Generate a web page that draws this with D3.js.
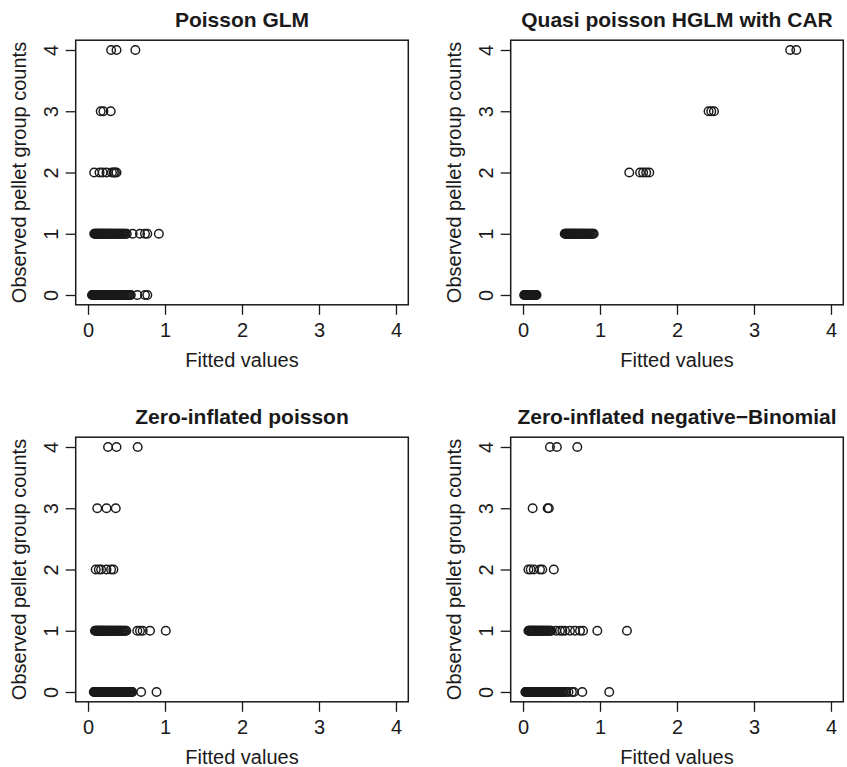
<!DOCTYPE html>
<html>
<head>
<meta charset="utf-8">
<script src="https://cdn.jsdelivr.net/npm/d3@7"></script>
<style>
  html, body { margin: 0; padding: 0; background: #ffffff; }
  svg { display: block; }
  text { font-family: "Liberation Sans", Arial, Helvetica, sans-serif; fill: #1a1a1a; }
</style>
</head>
<body>
<svg id="chart" width="847" height="767"></svg>
<script>
// Observed counts (0..4) against fitted values for four models.
const panelTitles = [
  "Poisson GLM",
  "Quasi poisson HGLM with CAR",
  "Zero-inflated poisson",
  "Zero-inflated negative\u2212Binomial"
];
const tickValues = [0, 1, 2, 3, 4];
const xLabel = "Fitted values";
const yLabel = "Observed pellet group counts";

// Poisson GLM: fitted values per observed count
const glmCount0 = [0.052,0.061,0.069,0.078,0.086,0.095,0.103,0.112,0.121,0.129,0.138,0.147,0.156,0.164,0.173,0.182,0.191,0.200,0.209,0.218,0.227,0.236,0.245,0.254,0.263,0.272,0.281,0.291,0.300,0.309,0.319,0.328,0.338,0.348,0.358,0.368,0.378,0.389,0.399,0.410,0.421,0.432,0.443,0.455,0.467,0.479,0.491,0.503,0.516,0.529,0.542,0.556,0.640,0.740,0.770];
const glmCount1 = [0.081,0.090,0.099,0.108,0.117,0.126,0.135,0.144,0.153,0.162,0.171,0.180,0.189,0.198,0.207,0.217,0.226,0.236,0.246,0.256,0.266,0.276,0.286,0.297,0.307,0.318,0.329,0.340,0.351,0.362,0.374,0.386,0.398,0.410,0.423,0.436,0.449,0.462,0.476,0.490,0.503,0.580,0.675,0.740,0.770,0.920];
const glmCount2 = [0.080,0.150,0.190,0.240,0.310,0.335,0.350,0.370];
const glmCount3 = [0.165,0.200,0.295];
const glmCount4 = [0.300,0.370,0.615];

// Quasi poisson HGLM with CAR
const hglmCount0 = [0.015,0.022,0.029,0.036,0.043,0.050,0.058,0.065,0.073,0.081,0.089,0.097,0.105,0.113,0.121,0.130,0.139,0.148,0.157,0.166,0.175];
const hglmCount1 = [0.542,0.551,0.560,0.569,0.578,0.587,0.596,0.605,0.614,0.623,0.632,0.641,0.650,0.659,0.668,0.677,0.686,0.695,0.704,0.713,0.722,0.731,0.741,0.751,0.761,0.771,0.781,0.791,0.801,0.812,0.823,0.834,0.846,0.858,0.870,0.882,0.895,0.907,0.918];
const hglmCount2 = [1.380,1.520,1.560,1.600,1.640];
const hglmCount3 = [2.410,2.445,2.480];
const hglmCount4 = [3.470,3.550];

// Zero-inflated poisson
const zipCount0 = [0.075,0.084,0.093,0.102,0.111,0.120,0.129,0.138,0.147,0.156,0.165,0.174,0.183,0.192,0.201,0.210,0.219,0.229,0.238,0.248,0.257,0.267,0.277,0.287,0.297,0.307,0.317,0.327,0.338,0.348,0.359,0.370,0.381,0.392,0.403,0.415,0.426,0.438,0.450,0.462,0.475,0.487,0.500,0.513,0.526,0.539,0.552,0.565,0.575,0.690,0.890];
const zipCount1 = [0.090,0.099,0.108,0.117,0.126,0.135,0.144,0.153,0.162,0.171,0.181,0.190,0.200,0.209,0.219,0.229,0.239,0.249,0.259,0.269,0.280,0.290,0.301,0.312,0.323,0.334,0.345,0.357,0.368,0.380,0.392,0.404,0.417,0.430,0.443,0.456,0.470,0.484,0.497,0.640,0.675,0.710,0.805,1.010];
const zipCount2 = [0.100,0.140,0.170,0.240,0.300,0.330];
const zipCount3 = [0.120,0.240,0.360];
const zipCount4 = [0.260,0.370,0.645];

// Zero-inflated negative binomial
const zinbCount0 = [0.030,0.039,0.048,0.057,0.066,0.075,0.084,0.093,0.102,0.111,0.120,0.129,0.138,0.147,0.156,0.165,0.175,0.184,0.194,0.203,0.213,0.223,0.233,0.243,0.253,0.263,0.274,0.284,0.295,0.306,0.317,0.328,0.339,0.351,0.362,0.374,0.386,0.398,0.411,0.423,0.436,0.449,0.462,0.476,0.489,0.503,0.517,0.530,0.560,0.590,0.635,0.660,0.770,1.120];
const zinbCount1 = [0.070,0.079,0.088,0.097,0.106,0.115,0.124,0.133,0.142,0.151,0.160,0.170,0.179,0.189,0.198,0.208,0.218,0.228,0.238,0.248,0.258,0.268,0.279,0.289,0.300,0.311,0.322,0.333,0.344,0.356,0.367,0.430,0.480,0.510,0.545,0.610,0.675,0.740,0.780,0.965,1.350];
const zinbCount2 = [0.070,0.100,0.140,0.220,0.250,0.400];
const zinbCount3 = [0.125,0.320,0.335];
const zinbCount4 = [0.350,0.440,0.705];

const panelSeries = [
  [glmCount0, glmCount1, glmCount2, glmCount3, glmCount4],
  [hglmCount0, hglmCount1, hglmCount2, hglmCount3, hglmCount4],
  [zipCount0, zipCount1, zipCount2, zipCount3, zipCount4],
  [zinbCount0, zinbCount1, zinbCount2, zinbCount3, zinbCount4]
];

const svg = d3.select("#chart");
const ink = "#1a1a1a";

// Plot-box geometry for the 2 x 2 grid
const boxLeft = [75.7, 510.7];
const boxTop = [40.2, 437.2];
const boxW = 332.6;
const boxH = 264.6;

panelSeries.forEach((series, i) => {
  const col = i % 2, row = Math.floor(i / 2);
  const x0 = boxLeft[col], y0 = boxTop[row];

  const x = d3.scaleLinear().domain([-0.16, 4.16]).range([x0, x0 + boxW]);
  const y = d3.scaleLinear().domain([-0.16, 4.16]).range([y0 + boxH, y0]);

  const g = svg.append("g");

  // points: open circles
  const pts = [];
  series.forEach((vals, count) => vals.forEach(v => pts.push({ fit: v, obs: count })));
  g.append("g")
    .selectAll("circle")
    .data(pts)
    .join("circle")
    .attr("cx", d => x(d.fit))
    .attr("cy", d => y(d.obs))
    .attr("r", 4.3)
    .attr("fill", "none")
    .attr("stroke", ink)
    .attr("stroke-width", 1.45);

  // bottom axis
  const xa = g.append("g")
    .attr("transform", `translate(0,${y0 + boxH})`)
    .call(d3.axisBottom(x).tickValues(tickValues).tickFormat(d3.format("d")).tickSize(10));
  xa.select(".domain").remove();
  xa.selectAll("line").attr("stroke", ink).attr("stroke-width", 1.3);
  xa.selectAll("text")
    .attr("y", 32).attr("dy", 0)
    .style("font-size", "20px")
    .style("fill", ink);

  // left axis with rotated tick labels
  const ya = g.append("g")
    .attr("transform", `translate(${x0},0)`)
    .call(d3.axisLeft(y).tickValues(tickValues).tickFormat(d3.format("d")).tickSize(10));
  ya.select(".domain").remove();
  ya.selectAll("line").attr("stroke", ink).attr("stroke-width", 1.3);
  ya.selectAll("text")
    .attr("x", 0).attr("y", -17.4).attr("dy", 0)
    .attr("transform", "rotate(-90)")
    .attr("text-anchor", "middle")
    .style("font-size", "20px")
    .style("fill", ink);

  // plot box
  g.append("rect")
    .attr("x", x0).attr("y", y0)
    .attr("width", boxW).attr("height", boxH)
    .attr("fill", "none")
    .attr("stroke", ink)
    .attr("stroke-width", 1.5);

  // title
  g.append("text")
    .attr("x", x0 + boxW / 2)
    .attr("y", y0 - 13)
    .attr("text-anchor", "middle")
    .style("font-size", "21px")
    .style("font-weight", "bold")
    .text(panelTitles[i]);

  // axis titles
  g.append("text")
    .attr("x", x0 + boxW / 2)
    .attr("y", y0 + boxH + 62)
    .attr("text-anchor", "middle")
    .style("font-size", "20px")
    .text(xLabel);

  g.append("text")
    .attr("transform", `translate(${x0 - 49.7},${y0 + boxH / 2}) rotate(-90)`)
    .attr("text-anchor", "middle")
    .style("font-size", "20px")
    .text(yLabel);
});
</script>
</body>
</html>
